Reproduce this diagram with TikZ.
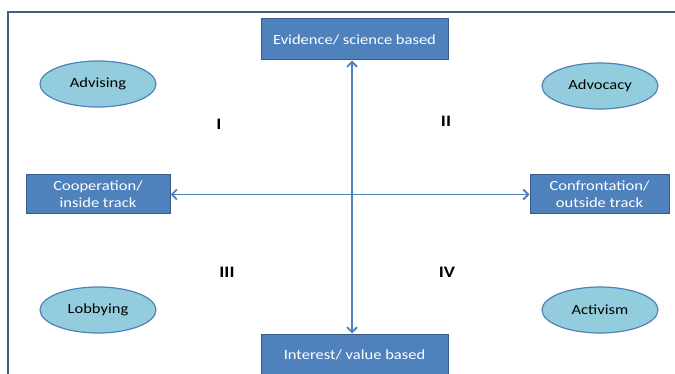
\documentclass[tikz,border=0pt]{standalone}
\usepackage{fontspec}
\setmainfont{Carlito}[FakeStretch=1.18]
\usetikzlibrary{arrows.meta}
\usetikzlibrary{shapes.geometric}
\definecolor{boxblue}{HTML}{4F81BD}
\definecolor{boxline}{HTML}{385D8A}
\definecolor{ovalfill}{HTML}{93CDDD}
\definecolor{frameline}{HTML}{3F5F86}
\begin{document}
\begin{tikzpicture}[x=1pt, y=-1pt, font=\fontsize{14}{17}\selectfont,
				axisbox/.style={rectangle,draw=boxline,line width=1pt,fill=boxblue,text=white,align=center,inner sep=0pt},
				roleoval/.style={ellipse,draw=boxblue,line width=1.2pt,fill=ovalfill,minimum width=116pt,minimum height=46pt,inner sep=0pt},
				quadlabel/.style={font=\fontsize{16}{19}\selectfont\bfseries},
				axisline/.style={boxblue,line width=1.8pt,{Straight Barb[length=5pt,width=10pt]}-{Straight Barb[length=5pt,width=10pt]}}]
				
				\useasboundingbox (0,0) rectangle (675,374);
				\draw [frameline,line width=1.2pt] (8,380) -- (8,12) -- (680,12);
				
				\node (evidence) [axisbox,minimum width=187pt,minimum height=41pt] at (354.5,39.5) {Evidence/ science based};
				\node (interest) [axisbox,minimum width=187pt,minimum height=41pt] at (354.5,354.5) {Interest/ value based};
				\node (coop) [axisbox,minimum width=144pt,minimum height=39pt] at (98,194.5) {Cooperation/\\inside track};
				\node (confront) [axisbox,minimum width=139pt,minimum height=39pt] at (599.5,194.5) {Confrontation/\\outside track};
				
				\node (advising) [roleoval] at (98,84) {Advising};
				\node (advocacy) [roleoval] at (600,86) {Advocacy};
				\node (lobbying) [roleoval] at (98,310) {Lobbying};
				\node (activism) [roleoval] at (600,310) {Activism};
				
				\node (q1) [quadlabel] at (219,124) {I};
				\node (q2) [quadlabel] at (446,121) {II};
				\node (q3) [quadlabel] at (227,272) {III};
				\node (q4) [quadlabel] at (447,272) {IV};
				
				\draw [axisline] (evidence.south -| 352,0) -- (interest.north -| 352,0);
				\draw [axisline] (coop.east) -- (confront.west);
			\end{tikzpicture}
\end{document}
